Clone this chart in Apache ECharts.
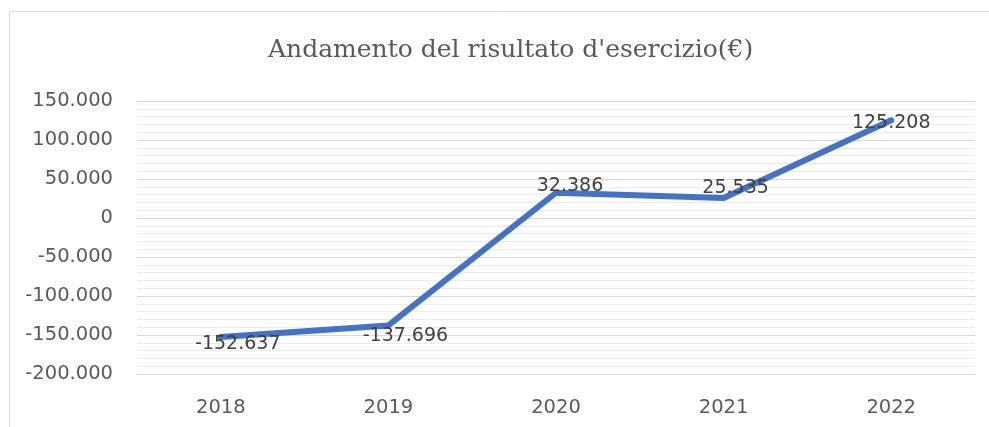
<!DOCTYPE html>
<html>
<head>
<meta charset="utf-8">
<script src="https://cdn.jsdelivr.net/npm/echarts@6/dist/echarts.min.js"></script>
<style>
	html, body { margin: 0; padding: 0; background: #fff; }
	#myChart { width: 989px; height: 427px; }
</style>
</head>
<body>
<div id="myChart"></div>
<script>
	// dati del grafico
	var anni = ['2018', '2019', '2020', '2021', '2022'];
	var risultato = [-152637, -137696, 32386, 25535, 125208];
	var tickMin = -200000;
	var tickMax = 150000;
	var tickStep = 50000;

	// separatore delle migliaia all'italiana
	function formatIt(v) {
		var neg = v < 0;
		var s = String(Math.abs(Math.round(v)));
		s = s.replace(/\B(?=(\d{3})+(?!\d))/g, '.');
		return (neg ? '-' : '') + s;
	}

	var offsets = [[17, 7], [17, 11], [14, -7], [12, -10], [0, 3]];
	var punti = risultato.map(function(v, i) {
		return { value: v, label: { offset: offsets[i] } };
	});

	var myChart = echarts.init(document.getElementById('myChart'));
	myChart.setOption({
		backgroundColor: '#ffffff',
		animation: false,
		graphic: [{
			type: 'rect',
			shape: { x: 9.5, y: 11.5, width: 1000, height: 430 },
			style: { fill: 'none', stroke: '#d9d9d9', lineWidth: 1 },
			silent: true
		}],
		title: {
			text: "Andamento del risultato d'esercizio(€)",
			left: 263,
			top: 33,
			textStyle: {
				fontFamily: 'DejaVu Serif',
				fontWeight: 'normal',
				fontSize: 25,
				color: '#595959'
			}
		},
		grid: {
			left: 137,
			right: 14,
			top: 101,
			bottom: 53,
			containLabel: false
		},
		xAxis: {
			type: 'category',
			data: anni,
			boundaryGap: true,
			axisLine: { show: false },
			axisTick: { show: false },
			axisLabel: {
				margin: 24,
				fontFamily: 'DejaVu Sans',
				fontSize: 19.5,
				color: '#595959'
			}
		},
		yAxis: {
			type: 'value',
			min: tickMin,
			max: tickMax,
			interval: tickStep,
			axisLine: { show: false },
			axisTick: { show: false },
			axisLabel: {
				margin: 24,
				fontFamily: 'DejaVu Sans',
				fontSize: 19.5,
				color: '#595959',
				formatter: formatIt
			},
			splitLine: { lineStyle: { color: '#d9d9d9', width: 1 } },
			minorTick: { show: false, splitNumber: 5 },
			minorSplitLine: { show: true, lineStyle: { color: '#ececec', width: 1 } }
		},
		series: [{
			name: 'Risultato',
			type: 'line',
			data: punti,
			showSymbol: true,
			symbol: 'circle',
			symbolSize: 5,
			lineStyle: { color: '#4472c4', width: 6, cap: 'round', join: 'round' },
			itemStyle: { color: '#4472c4', borderWidth: 0 },
			label: {
				show: true,
				position: 'inside',
				fontFamily: 'DejaVu Sans',
				fontSize: 19,
				color: '#404040',
				formatter: function(p) { return formatIt(p.value); }
			}
		}]
	});
</script>
</body>
</html>
